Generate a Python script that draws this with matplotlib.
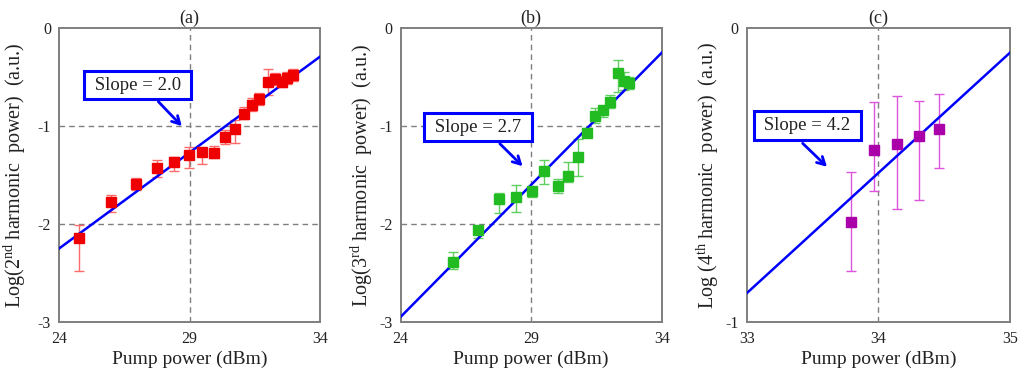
import numpy as np
import matplotlib
matplotlib.use("Agg")
import matplotlib.pyplot as plt

plt.rcParams['font.family'] = ['Liberation Serif', 'DejaVu Serif']
plt.rcParams['mathtext.fontset'] = 'custom'
plt.rcParams['mathtext.rm'] = 'Liberation Serif'
plt.rcParams['mathtext.it'] = 'Liberation Serif:italic'
plt.rcParams['axes.unicode_minus'] = False

# ---------------- data ----------------
# (a) 2nd harmonic
a_x = [24.76, 25.97, 26.95, 27.74, 28.40, 28.99, 29.49, 29.92, 30.36, 30.74,
       31.10, 31.38, 31.67, 31.99, 32.27, 32.53, 32.75, 32.95]
a_y = [-2.14, -1.78, -1.59, -1.425, -1.367, -1.30, -1.26, -1.27, -1.115, -1.026,
       -0.876, -0.787, -0.723, -0.549, -0.52, -0.546, -0.51, -0.48]
a_hi = [-2.01, -1.70, -1.53, -1.35, -1.32, -1.21, -1.23, -1.20, -1.04, -0.94,
        -0.80, -0.716, -0.66, -0.42, -0.46, -0.49, -0.45, -0.42]
a_lo = [-2.48, -1.875, -1.65, -1.52, -1.46, -1.43, -1.39, -1.33, -1.18, -1.17,
        -0.93, -0.85, -0.78, -0.68, -0.58, -0.60, -0.57, -0.54]
a_fit_x = [24, 34]
a_fit_y = [-2.25, -0.29]

# (b) 3rd harmonic
b_x = [25.99, 26.97, 27.77, 28.41, 29.04, 29.49, 30.01, 30.40, 30.78, 31.15,
       31.44, 31.74, 32.02, 32.31, 32.57, 32.76]
b_y = [-2.386, -2.065, -1.75, -1.73, -1.66, -1.456, -1.61, -1.507, -1.32, -1.067,
       -0.897, -0.84, -0.754, -0.46, -0.535, -0.56]
b_hi = [-2.29, -2.02, -1.68, -1.60, -1.62, -1.35, -1.54, -1.37, -1.135, -1.02,
        -0.82, -0.80, -0.68, -0.32, -0.45, -0.50]
b_lo = [-2.46, -2.14, -1.89, -1.875, -1.72, -1.59, -1.68, -1.57, -1.51, -1.11,
        -0.97, -0.91, -0.82, -0.65, -0.63, -0.62]
b_fit_x = [24, 34]
b_fit_y = [-2.95, -0.25]

# (c) 4th harmonic
c_x = [33.79, 33.97, 34.14, 34.31, 34.46]
c_y = [-0.661, -0.416, -0.394, -0.367, -0.343]
c_hi = [-0.489, -0.252, -0.23, -0.247, -0.225]
c_lo = [-0.827, -0.553, -0.615, -0.584, -0.477]
c_fit_x = [33, 35]
c_fit_y = [-0.903, -0.083]

titles = ['(a)', '(b)', '(c)']
ylabels = [r'Log(2$^{\mathrm{nd}}$ harmonic  power)  (a.u.)',
           r'Log(3$^{\mathrm{rd}}$ harmonic  power)  (a.u.)',
           r'Log (4$^{\mathrm{th}}$ harmonic  power)  (a.u.)']
slope_texts = ['Slope = 2.0', 'Slope = 2.7', 'Slope = 4.2']
xticks_list = [[24, 29, 34], [24, 29, 34], [33, 34, 35]]
yticks_list = [[-3, -2, -1, 0], [-3, -2, -1, 0], [-1, 0]]

# ---------------- figure ----------------
fig = plt.figure(figsize=(10.18, 3.69), dpi=100)
W, H = 1018, 369
boxes = [(59.3, 28.3, 320.0, 321.7), (400.7, 28.3, 661.7, 321.7), (746.7, 28.3, 1010.0, 321.7)]
ylabel_pads = [7, 3, 3]

datasets = [
    (a_x, a_y, a_lo, a_hi, a_fit_x, a_fit_y, '#ee0000', '#ff6a6a'),
    (b_x, b_y, b_lo, b_hi, b_fit_x, b_fit_y, '#22bb22', '#5fd05f'),
    (c_x, c_y, c_lo, c_hi, c_fit_x, c_fit_y, '#aa00aa', '#dd55dd'),
]
# annotation placement: text center, arrow tail, arrow head (data coords)
ann = [((27.0, -0.58), (27.8, -0.75), (28.7, -1.0)),
       ((26.96, -1.01), (27.80, -1.18), (28.67, -1.41)),
       ((33.46, -0.331), (33.425, -0.392), (33.61, -0.472))]

for i, (l, t, r, b) in enumerate(boxes):
    ax = fig.add_axes([l / W, (H - b) / H, (r - l) / W, (b - t) / H])
    x, y, lo, hi, fx, fy, mc, ec = datasets[i]
    x = np.array(x); y = np.array(y); lo = np.array(lo); hi = np.array(hi)
    ax.plot(fx, fy, color='#0000ff', lw=1.8, zorder=3)
    ax.errorbar(x, y, yerr=[y - lo, hi - y], fmt='none', ecolor=ec,
                elinewidth=1.0, capsize=3.5, capthick=1.0, zorder=2)
    ax.plot(x, y, 's', color=mc, ms=6.5, mec=mc, zorder=4)
    ax.set_xlim(xticks_list[i][0], xticks_list[i][-1])
    ax.set_ylim(yticks_list[i][0], yticks_list[i][-1])
    ax.set_xticks(xticks_list[i])
    ax.set_yticks(yticks_list[i])
    ax.tick_params(length=0, labelsize=11.5, pad=7, colors='#222222')
    ax.tick_params(axis='y', pad=6)
    for xv in xticks_list[i][1:-1]:
        ax.axvline(xv, color='#7f7f7f', lw=1.0, ls=(0, (4, 3)), zorder=1)
    for yv in yticks_list[i][1:-1]:
        ax.axhline(yv, color='#7f7f7f', lw=1.0, ls=(0, (4, 3)), zorder=1)
    for s in ax.spines.values():
        s.set_color('#7f7f7f')
        s.set_linewidth(1.4)
    ax.set_title(titles[i], fontsize=13, pad=4, color='#222222')
    ax.set_xlabel('Pump power (dBm)', fontsize=14, labelpad=2, color='#222222')
    ax.set_ylabel(ylabels[i], fontsize=14.5, labelpad=ylabel_pads[i], color='#222222')
    (tx, ty), (ax0, ay0), (hx, hy) = ann[i]
    ax.annotate('', xy=(hx, hy), xytext=(ax0, ay0),
                arrowprops=dict(arrowstyle='->,head_length=0.55,head_width=0.3',
                                color='#0000ff', lw=2.0, shrinkA=0, shrinkB=0),
                zorder=5)
    ax.text(tx, ty, ' ' + slope_texts[i] + ' ', ha='center', va='center',
            fontsize=13.5, color='#222222', zorder=6,
            bbox=dict(boxstyle='square,pad=0.3', fc='white', ec='#0000ff', lw=2.2))

fig.savefig('out.png', dpi=100)
